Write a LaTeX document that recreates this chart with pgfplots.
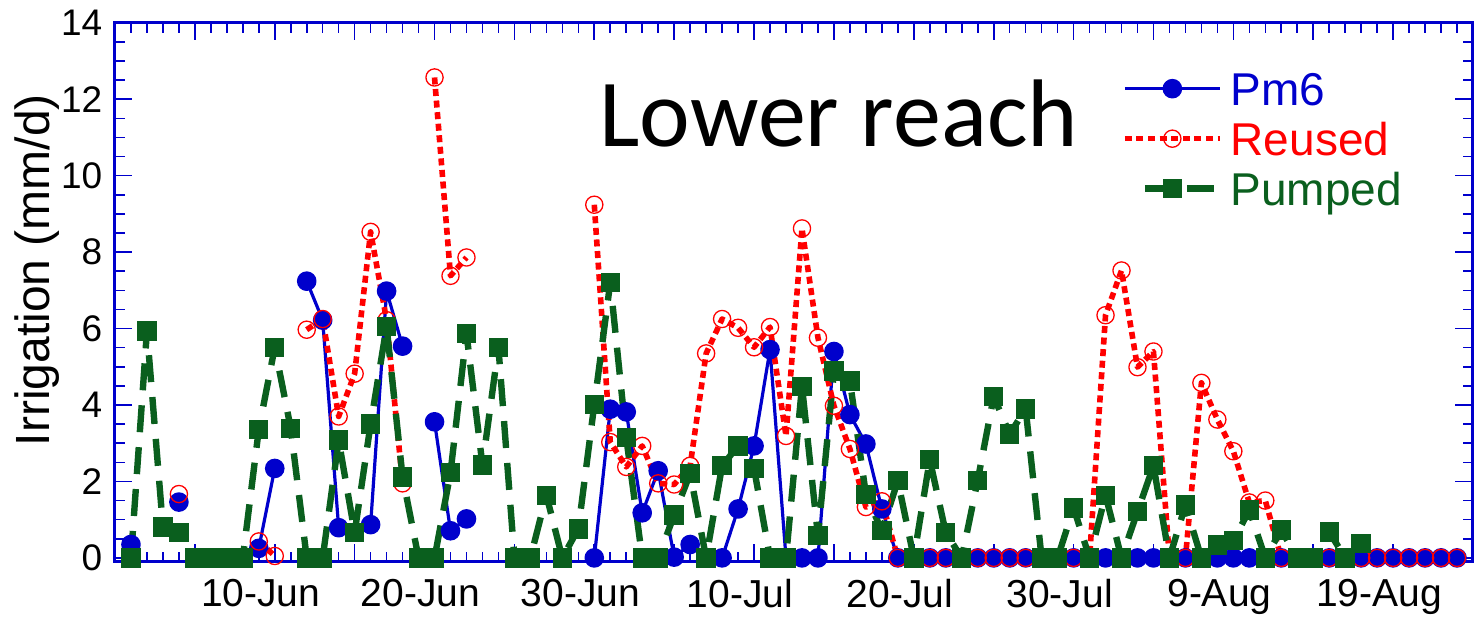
\documentclass[border=0pt]{standalone}
\usepackage{pgfplots}
\pgfplotsset{compat=1.18}
\usepackage{pgfplotstable}
\usepackage{fontspec}
\setmainfont{Liberation Sans}
\newfontfamily\titlefont{Carlito}
\definecolor{myblue}{RGB}{0,0,204}
\definecolor{myred}{RGB}{255,0,0}
\definecolor{mygreen}{RGB}{10,95,30}

\pgfplotstableread{
d pm6 reused pumped
1 0.35 nan 0
2 nan nan 5.94
3 nan nan 0.81
4 1.46 1.67 0.66
5 nan nan 0
6 nan nan 0
7 nan nan 0
8 nan nan 0
9 0.25 0.43 3.36
10 2.34 0.05 5.51
11 nan nan 3.39
12 7.24 5.97 0
13 6.22 6.25 0
14 0.79 3.70 3.08
15 nan 4.82 0.66
16 0.87 8.53 3.50
17 6.98 6.22 6.05
18 5.54 1.95 2.12
19 nan nan 0
20 3.56 12.57 0
21 0.71 7.38 2.23
22 1.02 7.86 5.87
23 nan nan 2.43
24 nan nan 5.51
25 nan nan 0
26 nan nan 0
27 nan nan 1.64
28 nan nan 0
29 nan nan 0.76
30 0 9.24 4.01
31 3.89 3.03 7.21
32 3.82 2.38 3.15
33 1.18 2.93 0
34 2.28 1.95 0
35 0.02 1.92 1.12
36 0.35 2.41 2.21
37 0 5.35 0
38 0 6.25 2.41
39 1.28 6.02 2.93
40 2.93 5.51 2.34
41 5.45 6.04 0
42 0 3.19 0
43 0 8.62 4.49
44 0 5.76 0.58
45 5.40 3.98 4.89
46 3.75 2.85 4.63
47 2.98 1.33 1.66
48 1.28 1.48 0.71
49 0 0 2.02
50 0 0 0
51 0 0 2.57
52 0 0 0.66
53 0 0 0
54 0 0 2.03
55 0 0 4.22
56 0 0 3.24
57 0 0 3.90
58 0 0 0
59 0 0 0
60 0 0 1.31
61 0 0 0
62 0 6.35 1.64
63 0 7.52 0
64 0 4.99 1.21
65 0 5.40 2.41
66 0 0 0
67 0 0 1.38
68 0 4.58 0
69 0 3.62 0.34
70 0 2.79 0.45
71 0 1.45 1.25
72 0 1.50 0
73 0 0 0.73
74 0 0 0
75 0 0 0
76 0 0 0.68
77 0 0 0
78 0 0 0.37
79 0 0 nan
80 0 0 nan
81 0 0 nan
82 0 0 nan
83 0 0 nan
84 0 0 nan
}\data

\begin{document}
\begin{tikzpicture}
\begin{axis}[
  at={(0,0)}, anchor=south west,
  scale only axis, width=679pt, height=269.45pt,
  xmin=0, xmax=85, ymin=-0.1, ymax=14,
  clip=false,
  unbounded coords=jump,
  axis line style={draw=myblue, line width=1.5pt},
  tick style={draw=myblue, line width=0.8pt},
  major tick length=8.75pt, minor tick length=5pt,
  tick align=inside,
  xtick={0,5,...,85},
  xticklabels={,,10-Jun,,20-Jun,,30-Jun,,10-Jul,,20-Jul,,30-Jul,,9-Aug,,19-Aug,},
  minor xtick={1,...,84},
  ytick={0,2,...,14},
  minor ytick={0.5,1,...,13.5},
  /pgf/number format/assume math mode=true,
  xticklabel style={font=\fontsize{19.5pt}{21pt}\selectfont, inner sep=0pt, anchor=north, yshift=-8.7pt, xshift=-7pt},
  yticklabel style={font=\fontsize{18.5pt}{20pt}\selectfont, inner sep=0pt, anchor=east, xshift=-6.2pt},
  ylabel={Irrigation (mm/d)},
  ylabel style={at={(axis description cs:-0.0484,0.541)}, anchor=base, font=\fontsize{24pt}{26pt}\selectfont, inner sep=0pt},
  legend cell align=left,
  legend style={at={(0.7413,0.9093)}, anchor=north west, draw=none, fill=none,
    inner sep=0pt, outer sep=0pt, row sep=8pt,
    font=\fontsize{23pt}{25pt}\selectfont,
    nodes={inner sep=0pt, text height=17pt, text depth=0pt},
    /tikz/every odd column/.append style={column sep=4pt}},
]
\addplot[myblue, line width=1.6pt, line join=round, mark=*, mark size=4.1pt,
  mark options={solid, fill=myblue, draw=myblue},
  legend image code/.code={\draw[mark repeat=2, mark phase=2] plot coordinates {(0pt,0pt) (23.75pt,0pt) (47.5pt,0pt)};}]
  table[x=d, y=pm6] {\data};
\addlegendentry{\textcolor{myblue}{Pm6}}
\addplot[myred, line width=2.8pt, line join=round, dash pattern=on 3.5pt off 2.3pt, mark=o, mark size=4.3pt,
  mark options={solid, draw=myred, line width=0.65pt, fill=none},
  legend image code/.code={\draw[mark repeat=2, mark phase=2] plot coordinates {(0pt,0pt) (23.75pt,0pt) (47.5pt,0pt)};}]
  table[x=d, y=reused] {\data};
\addlegendentry{\textcolor{myred}{Reused}}
\addplot[mygreen, line width=3.2pt, line join=round, dash pattern=on 13.5pt off 7.5pt, mark=square*, mark size=4.6pt,
  mark options={solid, fill=mygreen, draw=mygreen, line width=0.5pt, line join=miter},
  legend image code/.code={\path (0pt,0pt); \draw[mark repeat=2, mark phase=2] plot coordinates {(10pt,0pt) (23.75pt,0pt) (45pt,0pt)};}]
  table[x=d, y=pumped] {\data};
\addlegendentry{\textcolor{mygreen}{Pumped}}
\node[anchor=base west, inner sep=0pt, font=\titlefont\fontsize{48pt}{50pt}\selectfont]
  at (rel axis cs:0.3566,0.7701) {Lower reach};
\end{axis}
\pgfresetboundingbox
\path[use as bounding box] (-57.5pt,-28.15pt) rectangle (684pt,280.85pt);
\end{tikzpicture}
\end{document}
